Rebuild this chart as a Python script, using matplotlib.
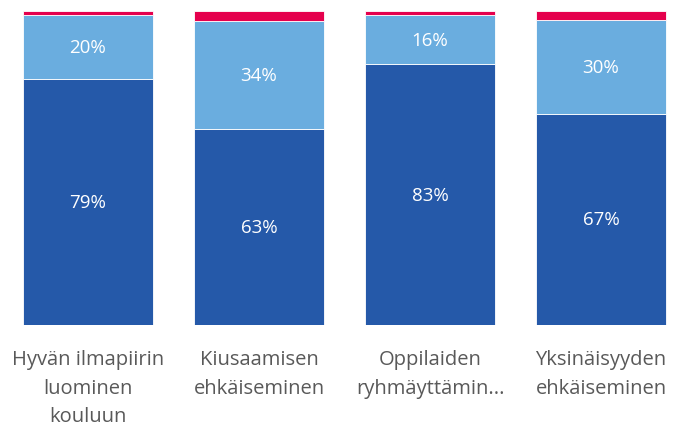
import matplotlib
matplotlib.use("Agg")
import matplotlib.pyplot as plt
import numpy as np

categories = ["Hyvän ilmapiirin\nluominen\nkouluun", "Kiusaamisen\nehkäiseminen",
              "Oppilaiden\nryhmäyttämin...", "Yksinäisyyden\nehkäiseminen"]
dark_vals = [78.4, 62.4, 83.1, 67.2]
light_vals = [20.3, 34.4, 15.6, 29.9]
red_vals = [1.3, 3.2, 1.3, 2.9]
dark_labels = ["79%", "63%", "83%", "67%"]
light_labels = ["20%", "34%", "16%", "30%"]

c_dark = "#2559a9"
c_light = "#6aaddf"
c_red = "#e5004d"

plt.rcParams['font.family'] = ['Open Sans', 'DejaVu Sans']

fig = plt.figure(figsize=(6.76, 4.31), dpi=100)
ax = fig.add_axes([0, (431 - 326) / 431, 1, (326 - 12) / 431])
x = np.arange(len(categories))
w = 0.76
d = np.array(dark_vals)
l = np.array(light_vals)
r = np.array(red_vals)
ax.bar(x, d, w, color=c_dark, edgecolor="white", linewidth=0.6)
ax.bar(x, l, w, bottom=d, color=c_light, edgecolor="white", linewidth=0.6)
ax.bar(x, r, w, bottom=d + l, color=c_red, edgecolor="white", linewidth=0.6)

for i in range(len(categories)):
    ax.text(x[i], d[i] / 2, dark_labels[i], ha="center", va="center",
            color="white", fontsize=13.5)
    ax.text(x[i], d[i] + l[i] / 2, light_labels[i], ha="center", va="center",
            color="white", fontsize=13.5)

ax.set_xlim((0 - 88) / 171, (676 - 88) / 171)
ax.set_ylim(0, 100)
ax.axis("off")

for i, c in enumerate(categories):
    ax.text(x[i], -0.077, c, transform=ax.get_xaxis_transform(), ha="center", va="top",
            color="#595959", fontsize=14.5, linespacing=1.57)

fig.savefig("out.png", dpi=100, facecolor="white")
